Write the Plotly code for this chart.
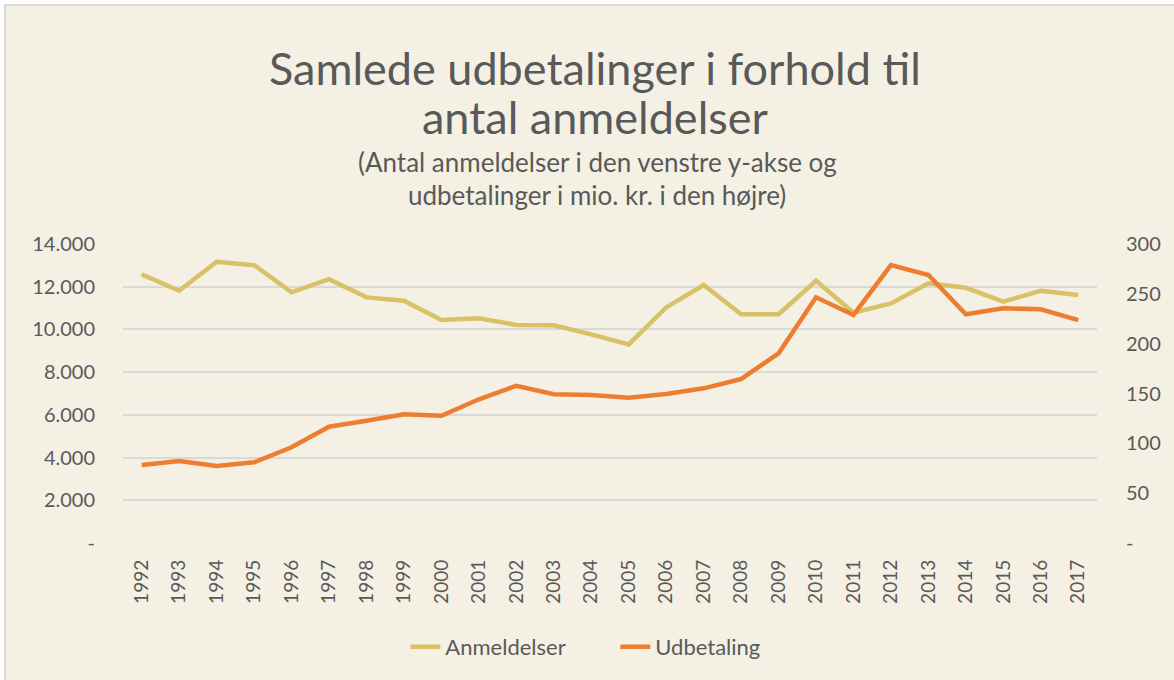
"""Samlede udbetalinger i forhold til antal anmeldelser, 1992-2017."""

import plotly.graph_objects as go

BG = "#F4F1E4"
TEXT = "#595959"
GRID = "#D9D9D9"
GOLD = "#D8C167"
ORANGE = "#ED7D31"
FONT = "Lato"

years = [str(y) for y in range(1992, 2018)]

anmeldelser = [
    12580, 11810, 13170, 13010, 11740, 12350, 11500, 11340, 10440, 10520,
    10210, 10190, 9770, 9300, 11030, 12080, 10710, 10710, 12280, 10780,
    11220, 12160, 11950, 11300, 11810, 11610,
]

udbetaling = [
    78.3, 82.3, 77.3, 81.0, 96.0, 116.7, 122.7, 129.1, 127.7, 144.2,
    157.8, 149.2, 148.5, 145.8, 149.5, 155.2, 164.5, 190.3, 246.5, 228.8,
    278.9, 268.9, 229.5, 235.5, 234.5, 223.7,
]

left_ticks = [0, 2000, 4000, 6000, 8000, 10000, 12000, 14000]
left_labels = ["-", "2.000", "4.000", "6.000", "8.000", "10.000", "12.000", "14.000"]
right_ticks = [0, 50, 100, 150, 200, 250, 300]
right_labels = ["-", "50", "100", "150", "200", "250", "300"]

title_lines = ["Samlede udbetalinger i forhold til", "antal anmeldelser"]
subtitle_lines = [
    "(Antal anmeldelser i den venstre y-akse og",
    "udbetalinger i mio. kr. i den højre)",
]

fig = go.Figure()

fig.add_trace(go.Scatter(
    x=years, y=anmeldelser, name="Anmeldelser", mode="lines",
    line={"color": GOLD, "width": 4.5},
))
fig.add_trace(go.Scatter(
    x=years, y=udbetaling, name="Udbetaling", mode="lines", yaxis="y2",
    line={"color": ORANGE, "width": 4.5},
))

fig.update_layout(
    width=1174,
    height=680,
    margin={"l": 123, "r": 77, "t": 244, "b": 137},
    paper_bgcolor="white",
    plot_bgcolor="rgba(0,0,0,0)",
    font={"family": FONT, "color": TEXT, "size": 19},
    showlegend=True,
    legend={
        "orientation": "h", "x": 0.5055, "xanchor": "center",
        "y": -0.348, "yanchor": "middle",
        "font": {"size": 22, "color": TEXT},
        "bgcolor": "rgba(0,0,0,0)",
        "entrywidth": 165,
    },
    xaxis={
        "type": "category",
        "range": [-0.5, 25.5],
        "tickangle": -90,
        "showgrid": False,
        "zeroline": False,
        "showline": False,
        "ticklabelstandoff": 12,
        "tickfont": {"size": 19, "color": TEXT},
    },
    yaxis={
        "range": [0, 14000],
        "tickvals": left_ticks,
        "ticktext": left_labels,
        "showgrid": True,
        "gridcolor": GRID,
        "gridwidth": 1.5,
        "zeroline": False,
        "ticklabelstandoff": 27,
        "tickfont": {"size": 20, "color": TEXT},
    },
    yaxis2={
        "range": [0, 300],
        "overlaying": "y",
        "side": "right",
        "tickvals": right_ticks,
        "ticktext": right_labels,
        "showgrid": False,
        "zeroline": False,
        "ticklabelstandoff": 28,
        "tickfont": {"size": 20, "color": TEXT},
    },
)

# beige chart area with thin grey border, like the Excel chart frame
fig.add_shape(
    type="rect", xref="paper", yref="paper", layer="below",
    x0=-0.1211, x1=1.09, y0=-0.47, y1=1.7993,
    fillcolor=BG, line={"color": "#D0D0D0", "width": 1.5},
)

for text, ypos in zip(title_lines, [1.5886, 1.4247]):
    fig.add_annotation(
        text=text, xref="paper", yref="paper", x=0.4846, y=ypos,
        yanchor="middle", showarrow=False,
        font={"size": 45, "color": TEXT, "family": FONT},
    )

for text, ypos in zip(subtitle_lines, [1.2742, 1.1639]):
    fig.add_annotation(
        text=text, xref="paper", yref="paper", x=0.487, y=ypos,
        yanchor="middle", showarrow=False,
        font={"size": 26, "color": TEXT, "family": FONT},
    )

fig.write_html(
    "out.html",
    config={"displayModeBar": False},
    post_script="document.body.style.margin = '0';",
)
